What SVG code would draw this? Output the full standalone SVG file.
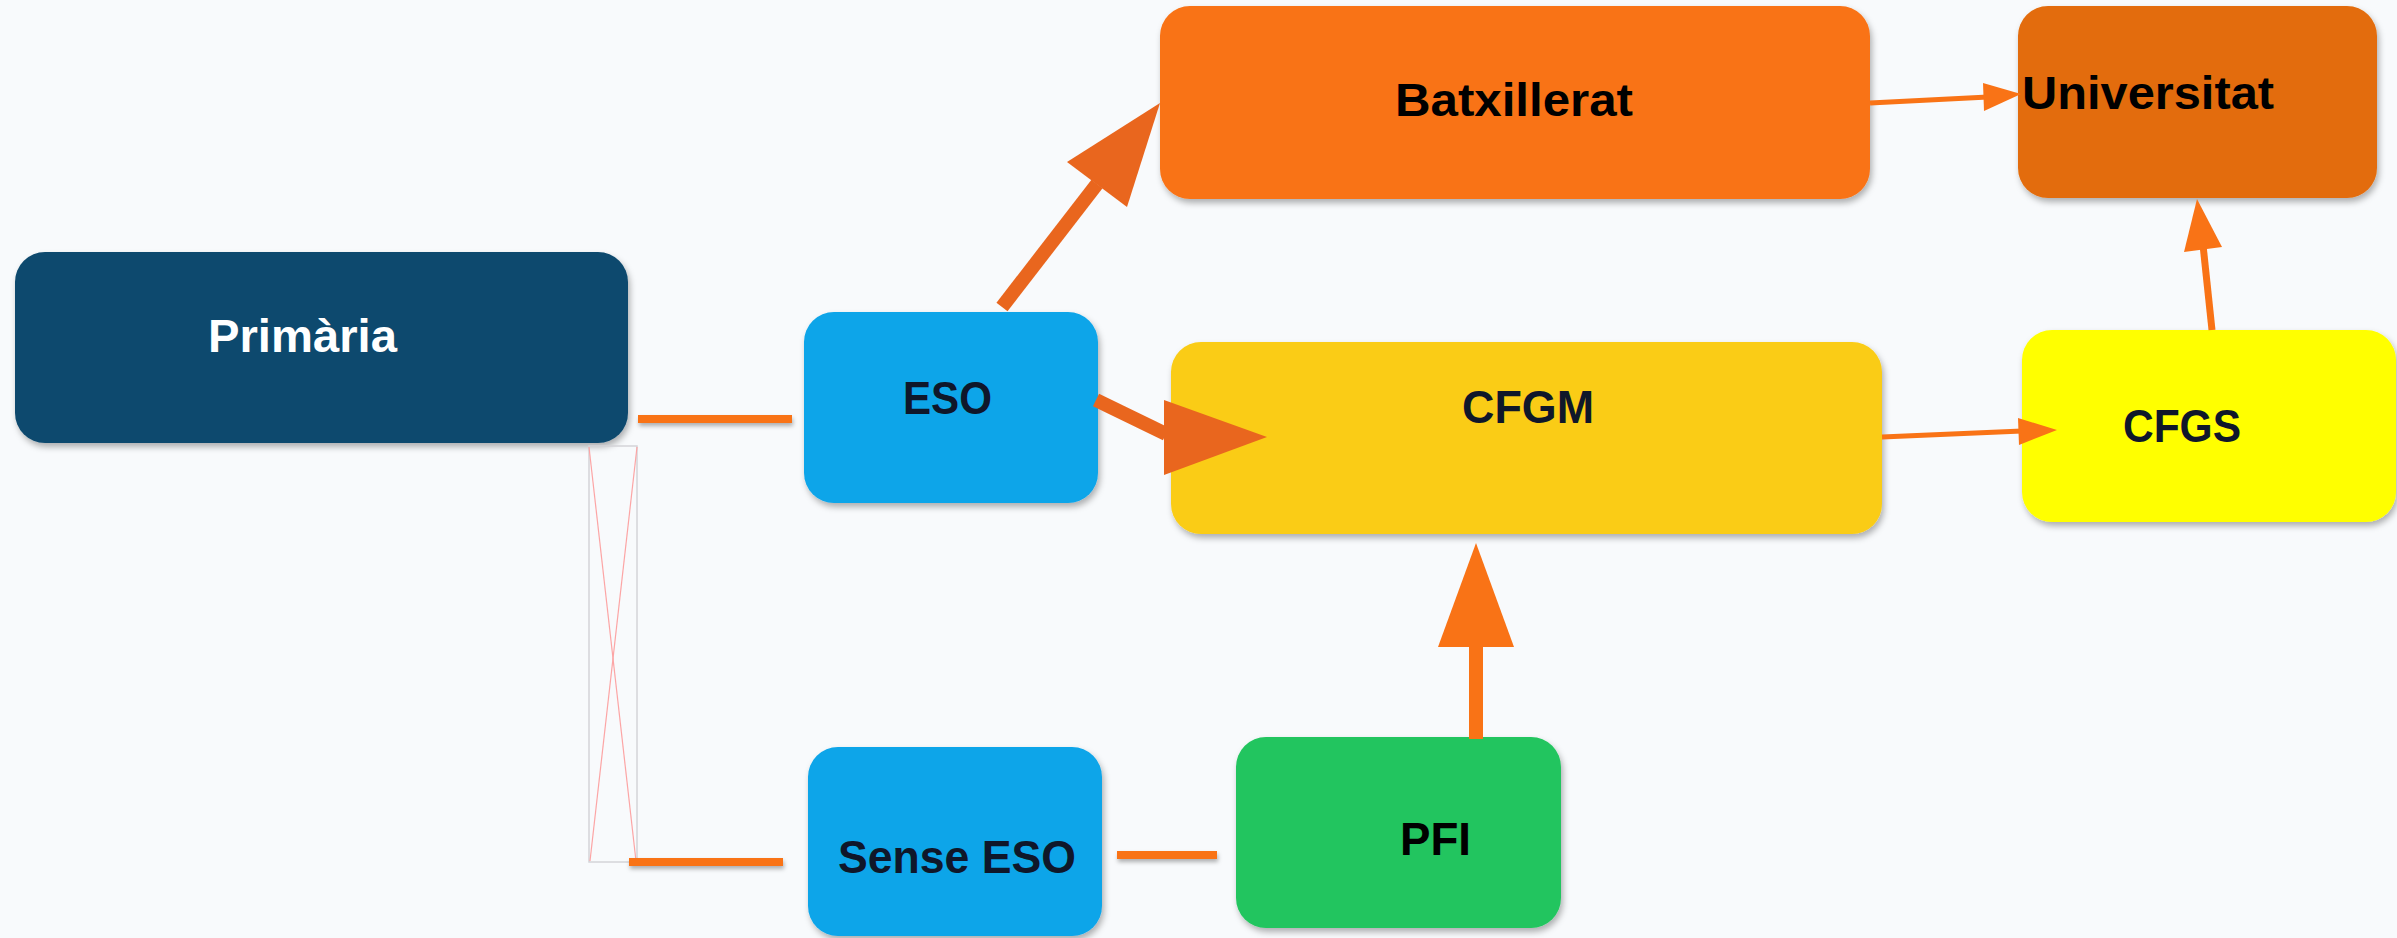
<svg xmlns="http://www.w3.org/2000/svg" width="2397" height="938" viewBox="0 0 2397 938">
  <defs>
    <filter id="sh" x="-10%" y="-10%" width="130%" height="140%">
      <feDropShadow dx="2" dy="4" stdDeviation="3" flood-color="#000" flood-opacity="0.3"/>
    </filter>
    <filter id="lsh" x="-10%" y="-100%" width="130%" height="400%">
      <feDropShadow dx="1" dy="3" stdDeviation="2" flood-color="#000" flood-opacity="0.3"/>
    </filter>
  </defs>
  <style>
    .node { filter: url(#sh); }
    .lbl { font-family: "Liberation Sans", Arial, sans-serif; font-weight: bold; font-size: 46px; }
    .dark { fill: #0f172a; }
    .blk { fill: #000; }
    .wht { fill: #fff; }
    .seg { fill: #f97316; filter: url(#lsh); }
    .thin { stroke: #f97316; fill: none; }
    .head { fill: #f97316; }
    .thick { stroke: #e9661e; stroke-width: 14; fill: none; }
    .thickhead { fill: #e9661e; }
  </style>
  <rect x="0" y="0" width="2397" height="938" fill="#f8fafc"/>

  <g id="nodes">
    <g id="primaria">
      <rect class="node" x="15" y="252" width="613" height="191" rx="30" fill="#0c4a6e"/>
      <text class="lbl wht" x="208" y="352" textLength="189" lengthAdjust="spacingAndGlyphs">Primària</text>
    </g>
    <g id="eso">
      <rect class="node" x="804" y="312" width="294" height="191" rx="30" fill="#0ea5e9"/>
      <text class="lbl dark" x="903" y="414" textLength="89" lengthAdjust="spacingAndGlyphs">ESO</text>
    </g>
    <g id="batxillerat">
      <rect class="node" x="1160" y="6" width="710" height="193" rx="30" fill="#f97316"/>
      <text class="lbl blk" x="1395" y="116" textLength="238" lengthAdjust="spacingAndGlyphs">Batxillerat</text>
    </g>
    <g id="universitat">
      <rect class="node" x="2018" y="6" width="359" height="192" rx="30" fill="#e36c0a"/>
      <text class="lbl blk" x="2022" y="109" textLength="252" lengthAdjust="spacingAndGlyphs">Universitat</text>
    </g>
    <g id="cfgm">
      <rect class="node" x="1171" y="342" width="711" height="192" rx="30" fill="#facc15"/>
      <text class="lbl dark" x="1462" y="423" textLength="132" lengthAdjust="spacingAndGlyphs">CFGM</text>
    </g>
    <g id="cfgs">
      <rect class="node" x="2022" y="330" width="374" height="192" rx="30" fill="#ffff00"/>
      <text class="lbl dark" x="2123" y="442" textLength="118" lengthAdjust="spacingAndGlyphs">CFGS</text>
    </g>
    <g id="sense-eso">
      <rect class="node" x="808" y="747" width="294" height="189" rx="30" fill="#0ea5e9"/>
      <text class="lbl dark" x="838" y="873" textLength="238" lengthAdjust="spacingAndGlyphs">Sense ESO</text>
    </g>
    <g id="pfi">
      <rect class="node" x="1236" y="737" width="325" height="191" rx="30" fill="#22c55e"/>
      <text class="lbl blk" x="1400" y="855" textLength="71" lengthAdjust="spacingAndGlyphs">PFI</text>
    </g>
  </g>

  <g id="placeholder">
    <rect x="589" y="446" width="48" height="416" fill="none" stroke="#d4d4d8" stroke-width="1.5"/>
    <line x1="589" y1="447" x2="636" y2="861" stroke="#fca5a5" stroke-width="1.2"/>
    <line x1="637" y1="447" x2="590" y2="861" stroke="#fca5a5" stroke-width="1.2"/>
  </g>

  <g id="connectors">
    <rect class="seg" x="638" y="415" width="154" height="8"/>
    <rect class="seg" x="629" y="858" width="154" height="8"/>
    <rect class="seg" x="1117" y="851" width="100" height="8"/>

    <!-- ESO -> Batxillerat -->
    <line class="thick" x1="1002" y1="307" x2="1097" y2="184"/>
    <polygon class="thickhead" points="1160,103 1067,162 1127,207"/>

    <!-- ESO -> CFGM -->
    <line class="thick" x1="1096" y1="400" x2="1166" y2="434"/>
    <polygon class="thickhead" points="1164,400 1267,437 1164,475"/>

    <!-- PFI -> CFGM -->
    <line class="thin" stroke-width="14" x1="1476" y1="739" x2="1476" y2="640"/>
    <polygon class="head" points="1476,543 1514,647 1438,647"/>

    <!-- Batxillerat -> Universitat -->
    <line class="thin" stroke-width="5" x1="1870" y1="103" x2="1988" y2="97"/>
    <polygon class="head" points="2021,94 1984,111 1983,83"/>

    <!-- CFGM -> CFGS -->
    <line class="thin" stroke-width="5" x1="1882" y1="437" x2="2022" y2="431"/>
    <polygon class="head" points="2057,430 2019,445 2018,418"/>

    <!-- CFGS -> Universitat -->
    <line class="thin" stroke-width="7" x1="2212" y1="330" x2="2203" y2="245"/>
    <polygon class="head" points="2197,199 2222,247 2184,252"/>
  </g>
</svg>
